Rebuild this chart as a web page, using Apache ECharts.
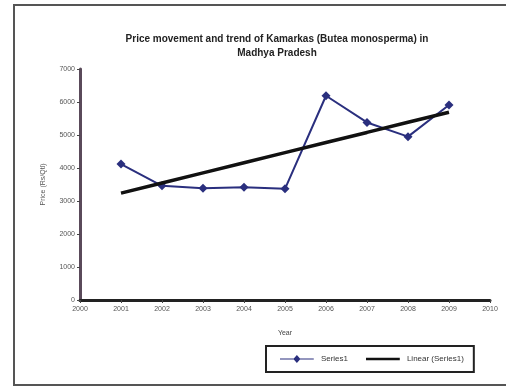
<!DOCTYPE html>
<html>
<head>
<meta charset="utf-8">
<script src="https://cdn.jsdelivr.net/npm/echarts@6/dist/echarts.min.js"></script>
<style>
  html, body { margin: 0; padding: 0; background: #fff; }
  #chart { width: 506px; height: 389px; }
</style>
</head>
<body>
<div id="chart"></div>
<script>
  var years = [2001, 2002, 2003, 2004, 2005, 2006, 2007, 2008, 2009]
  var prices = [4120, 3460, 3390, 3420, 3370, 6190, 5380, 4950, 5910]

  // Excel style linear trend of Series1
  var n = years.length
  var mx = years.reduce((a, b) => a + b, 0) / n
  var my = prices.reduce((a, b) => a + b, 0) / n
  var sxy = 0, sxx = 0
  years.forEach((x, i) => {
    sxy += (x - mx) * (prices[i] - my)
    sxx += (x - mx) * (x - mx)
  })
  var slope = sxy / sxx
  var trend = years.map(x => [x, Math.round(my + slope * (x - mx))])

  var font = 'Liberation Sans'
  var myChart = echarts.init(document.getElementById('chart'))
  myChart.setOption({
    animation: false,
    textStyle: { fontFamily: font },
    title: {
      text: 'Price movement and trend of Kamarkas (Butea monosperma) in\nMadhya Pradesh',
      left: 272,
      textAlign: 'center',
      top: 27,
      textStyle: { fontSize: 10, fontWeight: 'bold', color: '#222', lineHeight: 14 }
    },
    graphic: [{
      type: 'rect',
      shape: { x: 14, y: 5, width: 500, height: 380 },
      style: { fill: 'none', stroke: '#555', lineWidth: 2 }
    }],
    legend: {
      left: 266,
      top: 346,
      width: 228,
      itemWidth: 38,
      itemHeight: 8,
      itemGap: 18,
      padding: [9, 10, 9, 14],
      borderColor: '#222',
      borderWidth: 2,
      textStyle: { fontSize: 8, color: '#333' },
      data: [
        { name: 'Series1', icon: 'path://M0,4 L38,4 L38,5 L0,5 Z M19,0 L23,4.5 L19,9 L15,4.5 Z' },
        { name: 'Linear (Series1)', icon: 'path://M0,3 L38,3 L38,6 L0,6 Z M0,0 L0,0 M0,9 L0,9', itemStyle: { color: '#111' } }
      ]
    },
    grid: { left: 80, right: 16, top: 69, bottom: 89 },
    xAxis: {
      type: 'value',
      min: 2000,
      max: 2010,
      interval: 1,
      name: 'Year',
      nameLocation: 'middle',
      nameGap: 30,
      nameTextStyle: { fontSize: 7, color: '#444' },
      splitLine: { show: false },
      axisLine: { lineStyle: { color: '#222', width: 3 } },
      axisTick: { show: true, length: 3, lineStyle: { color: '#444' } },
      axisLabel: { fontSize: 7, color: '#555', margin: 6, formatter: v => String(v) }
    },
    yAxis: {
      type: 'value',
      min: 0,
      max: 7000,
      interval: 1000,
      name: 'Price (Rs/Qtl)',
      nameLocation: 'middle',
      nameRotate: 90,
      nameGap: 33,
      nameTextStyle: { fontSize: 7, color: '#555' },
      splitLine: { show: false },
      axisLine: { show: true, lineStyle: { color: '#5a4a5a', width: 3 } },
      axisTick: { show: true, length: 3, lineStyle: { color: '#444' } },
      axisLabel: { fontSize: 7, color: '#555', margin: 5, formatter: v => String(v) }
    },
    series: [
      {
        name: 'Series1',
        type: 'line',
        data: years.map((x, i) => [x, prices[i]]),
        symbol: 'diamond',
        symbolSize: 9,
        color: '#2a2f7e',
        lineStyle: { width: 2, color: '#2a2f7e' },
        itemStyle: { color: '#2a2f7e' },
        z: 3
      },
      {
        name: 'Linear (Series1)',
        type: 'line',
        data: trend,
        showSymbol: false,
        symbol: 'none',
        color: '#111',
        lineStyle: { width: 3.5, color: '#111' },
        z: 4
      }
    ]
  })
</script>
</body>
</html>
